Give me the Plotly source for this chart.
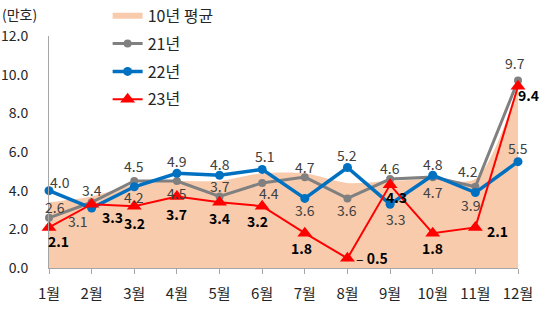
import plotly.graph_objects as go

months = ["1월", "2월", "3월", "4월", "5월", "6월", "7월", "8월", "9월", "10월", "11월", "12월"]
x_idx = list(range(1, 13))
avg10 = [3.4, 3.7, 4.3, 4.5, 4.5, 4.9, 4.9, 4.4, 4.5, 4.6, 4.6, 9.3]
y21 = [2.6, 3.4, 4.5, 4.5, 3.7, 4.4, 4.7, 3.6, 4.6, 4.7, 4.2, 9.7]
y22 = [4.0, 3.1, 4.2, 4.9, 4.8, 5.1, 3.6, 5.2, 3.3, 4.8, 3.9, 5.5]
y23 = [2.1, 3.3, 3.2, 3.7, 3.4, 3.2, 1.8, 0.5, 4.3, 1.8, 2.1, 9.4]

# label offsets in pixels (dx, dy), dy positive = downward
off21 = [(6, -11), (0, -12), (0, -15), (0, 12), (0, -10), (7, 10),
         (0, -10), (0, 12), (0, -11), (0, 15), (-7, -16), (-3, -17)]
off22 = [(11, -9), (-14, 13), (0, 10), (0, -12), (0, -11), (2, -13),
         (0, 12), (0, -12), (5, 15), (0, -11), (-4, 12), (0, -14)]
off23 = [(9, 14), (21, 13), (0, 17), (0, 18), (0, 16), (-5, 15),
         (-3, 15), (25, 0), (6, 12), (0, 15), (22, 4), (10, 9)]

FONT = "Noto Sans CJK KR"

fig = go.Figure()
fig.add_trace(go.Scatter(
    x=x_idx, y=avg10, name="10년 평균", mode="none", fill="tozeroy",
    fillcolor="#F8CBAD", line=dict(shape="spline", smoothing=0.8), legendgroup="a",
    hoverinfo="skip"))
fig.add_trace(go.Scatter(
    x=x_idx, y=y21, name="21년", mode="lines+markers",
    line=dict(color="#808080", width=3), marker=dict(symbol="circle", size=8, color="#808080"),
    legendgroup="b"))
fig.add_trace(go.Scatter(
    x=x_idx, y=y22, name="22년", mode="lines+markers",
    line=dict(color="#0070C0", width=3.5), marker=dict(symbol="circle", size=9, color="#0070C0"),
    legendgroup="c"))
fig.add_trace(go.Scatter(
    x=x_idx, y=y23, name="23년", mode="lines+markers",
    line=dict(color="#FF0000", width=2), marker=dict(symbol="triangle-up", size=13, color="#FF0000"),
    legendgroup="d"))

annos = []
for ys, offs, bold in ((y21, off21, False), (y22, off22, False), (y23, off23, True)):
    for xi, v, (dx, dy) in zip(x_idx, ys, offs):
        txt = f"{v:.1f}"
        if bold:
            txt = f"<b>{txt}</b>"
            if v == 0.5:
                txt = "– " + txt
        annos.append(dict(x=xi, y=v, xref="x", yref="y", text=txt, showarrow=False,
                          xshift=dx, yshift=-dy, xanchor="center", yanchor="middle",
                          font=dict(family=FONT, size=14,
                                    color="#000000" if bold else "#404040")))
annos.append(dict(text="(만호)", xref="paper", yref="paper", x=-0.104, y=1.095,
                  xanchor="left", yanchor="middle", showarrow=False,
                  font=dict(family=FONT, size=14, color="#262626")))

fig.update_layout(
    width=540, height=310,
    margin=dict(l=49, r=22, t=36, b=42, autoexpand=False),
    paper_bgcolor="white", plot_bgcolor="white",
    font=dict(family=FONT, size=13, color="#262626"),
    showlegend=True,
    legend=dict(x=0.125, y=1.16, xanchor="left", yanchor="top",
                font=dict(family=FONT, size=16, color="#262626"),
                tracegroupgap=4, bgcolor="rgba(0,0,0,0)", itemwidth=30),
    xaxis=dict(range=[1, 12], tickmode="array", tickvals=x_idx, ticktext=months,
               showgrid=False, zeroline=False, showline=True, linecolor="#A6A6A6", linewidth=1,
               ticks="outside", ticklen=5, tickcolor="#A6A6A6",
               tickfont=dict(family=FONT, size=15, color="#262626"), ticklabelstandoff=7),
    yaxis=dict(range=[0, 12], dtick=2, tickformat=".1f", showgrid=False, zeroline=False,
               showline=True, linecolor="#A6A6A6", linewidth=1, ticks="",
               tickfont=dict(family=FONT, size=14, color="#262626"), ticklabelstandoff=17),
    annotations=annos,
)
fig.update_traces(cliponaxis=False, selector=dict(type="scatter"))

fig.write_html("out.html")
